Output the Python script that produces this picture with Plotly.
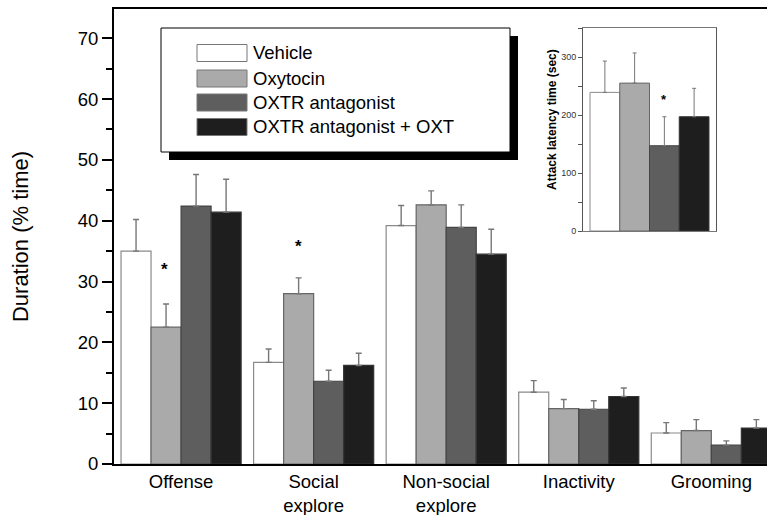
import plotly.graph_objects as go

# ---------------- data ----------------
categories = ["Offense", "Social<br>explore", "Non-social<br>explore", "Inactivity", "Grooming"]
series_names = ["Vehicle", "Oxytocin", "OXTR antagonist", "OXTR antagonist + OXT"]

vehicle_mean = [35.0, 16.7, 39.2, 11.8, 5.1]
vehicle_sem = [5.2, 2.2, 3.3, 1.9, 1.7]
oxytocin_mean = [22.5, 28.0, 42.6, 9.1, 5.5]
oxytocin_sem = [3.8, 2.6, 2.3, 1.5, 1.8]
antagonist_mean = [42.4, 13.6, 38.9, 9.0, 3.1]
antagonist_sem = [5.2, 1.8, 3.7, 1.4, 0.7]
antag_oxt_mean = [41.4, 16.2, 34.5, 11.1, 5.9]
antag_oxt_sem = [5.4, 2.0, 4.1, 1.4, 1.4]

inset_category = ["Attack latency"]
latency_mean = [239, 255, 147, 197]
latency_sem = [54, 52, 50, 49]

y_ticks = [0, 10, 20, 30, 40, 50, 60, 70]
inset_ticks = [0, 100, 200, 300]

# ---------------- style ----------------
FONT = "Liberation Sans, Arial, Helvetica, sans-serif"
fills = ["#ffffff", "#aaaaaa", "#5e5e5e", "#1e1e1e"]
edges = ["#8a8a8a", "#666666", "#444444", "#333333"]
W, H = 767, 515
ML, MR, MT, MB = 114, 0, 9, 51
PW, PH = W - ML - MR, H - MT - MB
TXT = 18.5


def px(x):
    return (x - ML) / PW


def py(y):
    return (H - MB - y) / PH


means = [vehicle_mean, oxytocin_mean, antagonist_mean, antag_oxt_mean]
sems = [vehicle_sem, oxytocin_sem, antagonist_sem, antag_oxt_sem]

fig = go.Figure()
for i, name in enumerate(series_names):
    fig.add_trace(go.Bar(
        x=categories, y=means[i], name=name,
        marker=dict(color=fills[i], line=dict(color=edges[i], width=1.2)),
        error_y=dict(type="data", symmetric=False, array=sems[i],
                     arrayminus=[0] * len(sems[i]), color="#777777",
                     thickness=1.4, width=3),
        xaxis="x", yaxis="y", showlegend=False,
    ))

for i, name in enumerate(series_names):
    fig.add_trace(go.Bar(
        x=inset_category, y=[latency_mean[i]], name=name,
        marker=dict(color=fills[i], line=dict(color=edges[i], width=1)),
        error_y=dict(type="data", symmetric=False, array=[latency_sem[i]],
                     arrayminus=[0], color="#777777", thickness=1, width=2),
        xaxis="x2", yaxis="y2", showlegend=False,
    ))

fig.update_layout(
    width=W, height=H,
    margin=dict(l=ML, r=MR, t=MT, b=MB),
    paper_bgcolor="white", plot_bgcolor="white",
    barmode="group", bargap=0.094, bargroupgap=0,
    showlegend=False,
    font=dict(family=FONT, color="black"),
    xaxis=dict(
        domain=[0, 1], range=[-0.506, 4.42], type="category",
        showline=True, linecolor="black", linewidth=2, mirror=True,
        ticks="", showgrid=False, zeroline=False,
        tickfont=dict(size=TXT, family=FONT, color="black"),
    ),
    yaxis=dict(
        domain=[0, 1], range=[0, 74.8],
        tickvals=y_ticks, ticks="outside", ticklen=10, tickwidth=2,
        tickcolor="black", showline=True, linecolor="black", linewidth=2,
        showgrid=False, zeroline=False,
        minor=dict(dtick=5, ticks="outside", ticklen=6, tickwidth=2, tickcolor="black", showgrid=False),
        tickfont=dict(size=TXT, family=FONT, color="black"),
        title=dict(text="Duration (% time)", font=dict(size=22, family=FONT, color="black"), standoff=43),
    ),
    xaxis2=dict(
        domain=[px(583), px(716)], anchor="y2", type="category",
        range=[-0.5065, 0.5065], showticklabels=False, ticks="",
        showline=True, linecolor="#777777", linewidth=1, mirror=True,
        showgrid=False, zeroline=False,
    ),
    yaxis2=dict(
        domain=[py(231), py(28)], anchor="x2", range=[0, 350],
        tickvals=inset_ticks, ticks="outside", ticklen=4, tickwidth=1,
        tickcolor="#555555", showline=True, linecolor="#555555", linewidth=1,
        mirror=True, showgrid=False, zeroline=False,
        minor=dict(dtick=50, ticks="outside", ticklen=4, tickwidth=1, tickcolor="#555555", showgrid=False),
        tickfont=dict(size=9, family=FONT, color="#333333"),
    ),
)

shapes = []
annotations = []

# legend drawn by hand (box with drop shadow)
shapes.append(dict(type="rect", xref="paper", yref="paper",
                   x0=px(169), x1=px(518), y0=py(160), y1=py(36),
                   fillcolor="black", line=dict(width=0), layer="above"))
shapes.append(dict(type="rect", xref="paper", yref="paper",
                   x0=px(161), x1=px(510), y0=py(152), y1=py(28),
                   fillcolor="white", line=dict(color="black", width=1), layer="above"))
row_centers = [53, 78.5, 102.5, 127]
for i, name in enumerate(series_names):
    cy = row_centers[i]
    shapes.append(dict(type="rect", xref="paper", yref="paper",
                       x0=px(197), x1=px(247), y0=py(cy + 8.5), y1=py(cy - 8.5),
                       fillcolor=fills[i], line=dict(color="#777777", width=1), layer="above"))
    annotations.append(dict(xref="paper", yref="paper", x=px(251), y=py(cy),
                            text=name, showarrow=False, xanchor="left", yanchor="middle",
                            font=dict(size=TXT, family=FONT, color="black")))

# significance stars
annotations.append(dict(xref="x", yref="y", x=-0.128, y=32.0, text="<b>*</b>",
                        showarrow=False, font=dict(size=17, family=FONT, color="black")))
annotations.append(dict(xref="x", yref="y", x=0.887, y=35.8, text="<b>*</b>",
                        showarrow=False, font=dict(size=17, family=FONT, color="black")))
annotations.append(dict(xref="x2", yref="y2", x=0.113, y=227, text="<b>*</b>",
                        showarrow=False, font=dict(size=13, family=FONT, color="black")))

# inset y-axis title
annotations.append(dict(xref="paper", yref="paper", x=px(552), y=py(120),
                        text="<b>Attack latency time (sec)</b>", textangle=-90,
                        showarrow=False, xanchor="center", yanchor="middle",
                        font=dict(size=12, family=FONT, color="black")))

fig.update_layout(shapes=shapes, annotations=annotations)

fig.write_html("out.html", config={"displayModeBar": False},
               post_script="document.body.style.margin='0';document.body.style.overflow='hidden';")
